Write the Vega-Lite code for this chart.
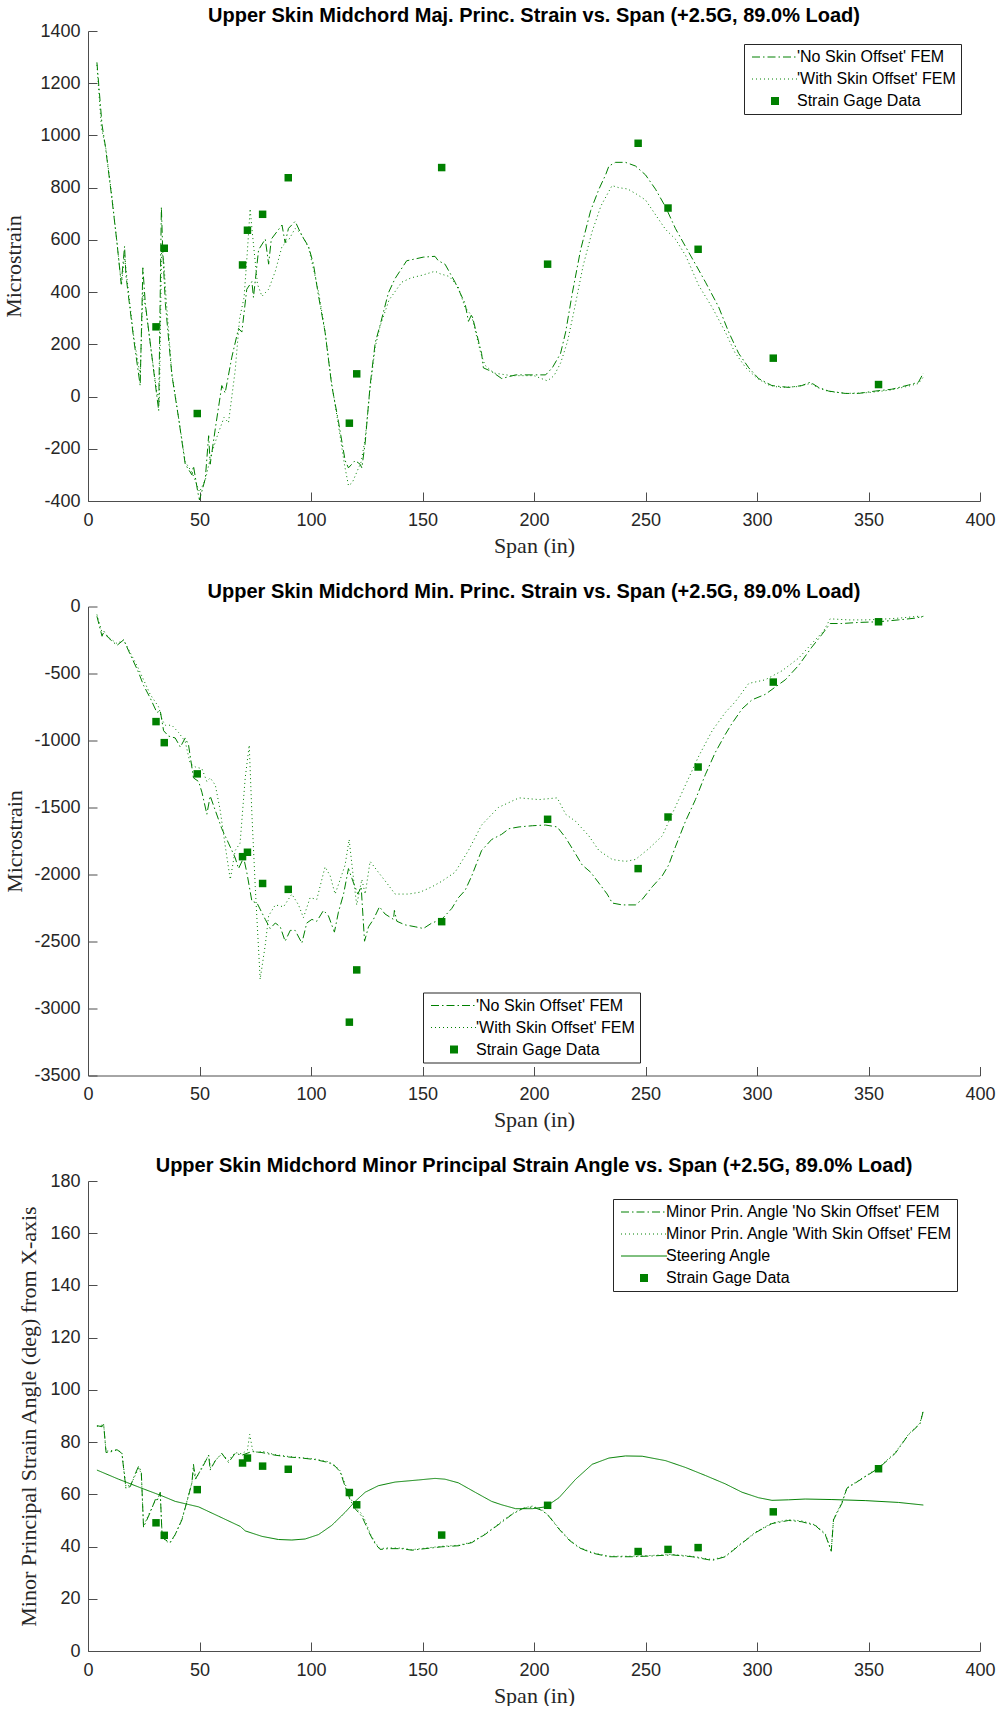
{
"$schema": "https://vega.github.io/schema/vega-lite/v6.json",
"padding": {"left": 2, "top": 6, "right": 0, "bottom": 0},
"background": "white",
"spacing": 25.5,
"datasets": {
"p1": [
{"s":"N","x":4,"y":1280},{"s":"N","x":6.3,"y":1040},{"s":"N","x":7.8,"y":958},{"s":"N","x":10.8,"y":753},{"s":"N","x":13,"y":589},{"s":"N","x":14.9,"y":432},{"s":"N","x":16.4,"y":575},{"s":"N","x":17,"y":466},{"s":"N","x":20.5,"y":220},{"s":"N","x":23.4,"y":42},{"s":"N","x":24.6,"y":493},{"s":"N","x":25.7,"y":356},{"s":"N","x":28.7,"y":151},{"s":"N","x":30.9,"y":0},{"s":"N","x":31.7,"y":-54},{"s":"N","x":32.9,"y":726},{"s":"N","x":33.5,"y":562},{"s":"N","x":34.7,"y":356},{"s":"N","x":37.6,"y":83},{"s":"N","x":40.6,"y":-81},{"s":"N","x":43.6,"y":-259},{"s":"N","x":46.6,"y":-300},{"s":"N","x":47.3,"y":-266},{"s":"N","x":49.3,"y":-369},{"s":"N","x":50,"y":-396},{"s":"N","x":52.6,"y":-314},{"s":"N","x":54.1,"y":-150},{"s":"N","x":54.8,"y":-259},{"s":"N","x":57.1,"y":-122},{"s":"N","x":60,"y":42},{"s":"N","x":61.5,"y":14},{"s":"N","x":64.5,"y":151},{"s":"N","x":67.5,"y":261},{"s":"N","x":69,"y":247},{"s":"N","x":71.2,"y":411},{"s":"N","x":73.5,"y":440},{"s":"N","x":74.2,"y":380},{"s":"N","x":76.5,"y":562},{"s":"N","x":79.5,"y":603},{"s":"N","x":81,"y":507},{"s":"N","x":82.2,"y":603},{"s":"N","x":87,"y":657},{"s":"N","x":88.4,"y":589},{"s":"N","x":89.9,"y":644},{"s":"N","x":92.9,"y":671},{"s":"N","x":95.9,"y":616},{"s":"N","x":98.9,"y":575},{"s":"N","x":101.1,"y":507},{"s":"N","x":103.4,"y":384},{"s":"N","x":106.3,"y":247},{"s":"N","x":109.3,"y":42},{"s":"N","x":112.3,"y":-95},{"s":"N","x":115.3,"y":-245},{"s":"N","x":116.8,"y":-273},{"s":"N","x":119.8,"y":-245},{"s":"N","x":122,"y":-259},{"s":"N","x":122.8,"y":-273},{"s":"N","x":124.3,"y":-177},{"s":"N","x":126.5,"y":42},{"s":"N","x":128.8,"y":206},{"s":"N","x":131,"y":274},{"s":"N","x":134.7,"y":397},{"s":"N","x":137.7,"y":452},{"s":"N","x":142.9,"y":520},{"s":"N","x":146.7,"y":527},{"s":"N","x":150.4,"y":534},{"s":"N","x":155.6,"y":537},{"s":"N","x":157.1,"y":520},{"s":"N","x":160.1,"y":507},{"s":"N","x":164.6,"y":438},{"s":"N","x":169.1,"y":356},{"s":"N","x":170.6,"y":288},{"s":"N","x":172.1,"y":315},{"s":"N","x":176.5,"y":165},{"s":"N","x":177.3,"y":110},{"s":"N","x":181,"y":96},{"s":"N","x":185.5,"y":69},{"s":"N","x":191.8,"y":83},{"s":"N","x":199.3,"y":83},{"s":"N","x":205.2,"y":83},{"s":"N","x":208.2,"y":110},{"s":"N","x":211.9,"y":165},{"s":"N","x":214.2,"y":247},{"s":"N","x":217.2,"y":397},{"s":"N","x":220.9,"y":562},{"s":"N","x":225.4,"y":712},{"s":"N","x":229.1,"y":794},{"s":"N","x":232.1,"y":849},{"s":"N","x":233.6,"y":883},{"s":"N","x":236.6,"y":897},{"s":"N","x":241,"y":897},{"s":"N","x":245.5,"y":883},{"s":"N","x":250,"y":849},{"s":"N","x":254.5,"y":794},{"s":"N","x":259,"y":726},{"s":"N","x":263.4,"y":644},{"s":"N","x":267.9,"y":575},{"s":"N","x":272.4,"y":507},{"s":"N","x":276.9,"y":438},{"s":"N","x":282.8,"y":343},{"s":"N","x":287.3,"y":247},{"s":"N","x":291.8,"y":165},{"s":"N","x":296.3,"y":110},{"s":"N","x":300.7,"y":69},{"s":"N","x":306.7,"y":42},{"s":"N","x":314.2,"y":35},{"s":"N","x":320.1,"y":42},{"s":"N","x":323.9,"y":55},{"s":"N","x":327.6,"y":35},{"s":"N","x":332.1,"y":21},{"s":"N","x":339.6,"y":12},{"s":"N","x":345.5,"y":12},{"s":"N","x":353,"y":21},{"s":"N","x":360.4,"y":28},{"s":"N","x":367.9,"y":44},{"s":"N","x":372.4,"y":55},{"s":"N","x":374.6,"y":90},
{"s":"W","x":4,"y":1270},{"s":"W","x":6,"y":1030},{"s":"W","x":8,"y":950},{"s":"W","x":10.8,"y":760},{"s":"W","x":13,"y":590},{"s":"W","x":15,"y":425},{"s":"W","x":16.4,"y":540},{"s":"W","x":17.5,"y":450},{"s":"W","x":20.5,"y":230},{"s":"W","x":23.4,"y":80},{"s":"W","x":24.6,"y":400},{"s":"W","x":26,"y":330},{"s":"W","x":28.7,"y":150},{"s":"W","x":31,"y":10},{"s":"W","x":32,"y":-20},{"s":"W","x":33,"y":560},{"s":"W","x":34,"y":520},{"s":"W","x":35,"y":380},{"s":"W","x":37.6,"y":90},{"s":"W","x":40.6,"y":-80},{"s":"W","x":43.6,"y":-250},{"s":"W","x":46.6,"y":-290},{"s":"W","x":48,"y":-320},{"s":"W","x":50,"y":-365},{"s":"W","x":52.6,"y":-320},{"s":"W","x":55,"y":-230},{"s":"W","x":58,"y":-150},{"s":"W","x":61,"y":-80},{"s":"W","x":63,"y":-100},{"s":"W","x":66,"y":100},{"s":"W","x":68,"y":300},{"s":"W","x":70,"y":380},{"s":"W","x":71.5,"y":560},{"s":"W","x":72.7,"y":719},{"s":"W","x":74,"y":600},{"s":"W","x":76,"y":430},{"s":"W","x":78,"y":384},{"s":"W","x":81,"y":411},{"s":"W","x":84,"y":480},{"s":"W","x":87,"y":575},{"s":"W","x":90,"y":600},{"s":"W","x":92.9,"y":644},{"s":"W","x":95.5,"y":625},{"s":"W","x":98.9,"y":570},{"s":"W","x":101,"y":493},{"s":"W","x":103.4,"y":400},{"s":"W","x":106.3,"y":250},{"s":"W","x":109.3,"y":50},{"s":"W","x":112.3,"y":-110},{"s":"W","x":115,"y":-260},{"s":"W","x":116.8,"y":-341},{"s":"W","x":118.5,"y":-330},{"s":"W","x":120.5,"y":-290},{"s":"W","x":122.5,"y":-250},{"s":"W","x":124.3,"y":-160},{"s":"W","x":126.5,"y":30},{"s":"W","x":128.8,"y":190},{"s":"W","x":131,"y":270},{"s":"W","x":135,"y":370},{"s":"W","x":140.7,"y":438},{"s":"W","x":145,"y":455},{"s":"W","x":150,"y":465},{"s":"W","x":155.6,"y":480},{"s":"W","x":158,"y":470},{"s":"W","x":162,"y":460},{"s":"W","x":166,"y":420},{"s":"W","x":169,"y":343},{"s":"W","x":172,"y":310},{"s":"W","x":176,"y":170},{"s":"W","x":178,"y":120},{"s":"W","x":182,"y":90},{"s":"W","x":190,"y":80},{"s":"W","x":200,"y":80},{"s":"W","x":206,"y":60},{"s":"W","x":209,"y":80},{"s":"W","x":212,"y":130},{"s":"W","x":215,"y":210},{"s":"W","x":218,"y":330},{"s":"W","x":222,"y":500},{"s":"W","x":226,"y":630},{"s":"W","x":230,"y":730},{"s":"W","x":235,"y":808},{"s":"W","x":238,"y":800},{"s":"W","x":242,"y":795},{"s":"W","x":246,"y":775},{"s":"W","x":250,"y":753},{"s":"W","x":255,"y":690},{"s":"W","x":259,"y":640},{"s":"W","x":263.4,"y":603},{"s":"W","x":268,"y":540},{"s":"W","x":273.9,"y":425},{"s":"W","x":280,"y":340},{"s":"W","x":285.8,"y":247},{"s":"W","x":290,"y":170},{"s":"W","x":295,"y":110},{"s":"W","x":300,"y":70},{"s":"W","x":305,"y":45},{"s":"W","x":310,"y":35},{"s":"W","x":318,"y":38},{"s":"W","x":323.9,"y":50},{"s":"W","x":327.6,"y":33},{"s":"W","x":332,"y":20},{"s":"W","x":340,"y":12},{"s":"W","x":350,"y":15},{"s":"W","x":360,"y":25},{"s":"W","x":368,"y":40},{"s":"W","x":372.4,"y":50},{"s":"W","x":374.6,"y":75}
],
"g1": [
{"x":30.5,"y":267},{"x":34.2,"y":568},{"x":49,"y":-65},{"x":69.3,"y":504},{"x":71.5,"y":637},{"x":78.3,"y":698},{"x":89.8,"y":838},{"x":117.2,"y":-102},{"x":120.5,"y":87},{"x":158.6,"y":877},{"x":206.1,"y":507},{"x":246.7,"y":970},{"x":260.1,"y":722},{"x":273.6,"y":564},{"x":307.3,"y":147},{"x":354.5,"y":46}
],
"p2": [
{"s":"N","x":4,"y":-73},{"s":"N","x":6.3,"y":-222},{"s":"N","x":7,"y":-182},{"s":"N","x":9.3,"y":-236},{"s":"N","x":13,"y":-290},{"s":"N","x":16,"y":-249},{"s":"N","x":18.2,"y":-331},{"s":"N","x":22.7,"y":-493},{"s":"N","x":24.9,"y":-588},{"s":"N","x":27.9,"y":-683},{"s":"N","x":30.9,"y":-791},{"s":"N","x":32.4,"y":-778},{"s":"N","x":33.9,"y":-927},{"s":"N","x":36.1,"y":-967},{"s":"N","x":39.1,"y":-981},{"s":"N","x":41.4,"y":-1049},{"s":"N","x":43.6,"y":-981},{"s":"N","x":45.1,"y":-1035},{"s":"N","x":47.3,"y":-1279},{"s":"N","x":49.6,"y":-1306},{"s":"N","x":51.1,"y":-1387},{"s":"N","x":53.3,"y":-1550},{"s":"N","x":54.8,"y":-1414},{"s":"N","x":57.1,"y":-1523},{"s":"N","x":60,"y":-1658},{"s":"N","x":63,"y":-1766},{"s":"N","x":66,"y":-1875},{"s":"N","x":67.5,"y":-1956},{"s":"N","x":69.8,"y":-1875},{"s":"N","x":71.2,"y":-1983},{"s":"N","x":73.5,"y":-2200},{"s":"N","x":75.8,"y":-2213},{"s":"N","x":79.5,"y":-2335},{"s":"N","x":81.7,"y":-2403},{"s":"N","x":84,"y":-2362},{"s":"N","x":86.2,"y":-2390},{"s":"N","x":88.4,"y":-2498},{"s":"N","x":90.7,"y":-2417},{"s":"N","x":92.9,"y":-2417},{"s":"N","x":95.9,"y":-2512},{"s":"N","x":98.1,"y":-2362},{"s":"N","x":100.4,"y":-2335},{"s":"N","x":102.6,"y":-2349},{"s":"N","x":105.6,"y":-2268},{"s":"N","x":107.8,"y":-2308},{"s":"N","x":110.5,"y":-2430},{"s":"N","x":112.3,"y":-2281},{"s":"N","x":114.6,"y":-2146},{"s":"N","x":116.8,"y":-1956},{"s":"N","x":119.1,"y":-2064},{"s":"N","x":121,"y":-2146},{"s":"N","x":122.5,"y":-2092},{"s":"N","x":124,"y":-2498},{"s":"N","x":125.8,"y":-2390},{"s":"N","x":128,"y":-2335},{"s":"N","x":130.7,"y":-2241},{"s":"N","x":133.2,"y":-2295},{"s":"N","x":137,"y":-2335},{"s":"N","x":137.4,"y":-2268},{"s":"N","x":138.5,"y":-2349},{"s":"N","x":142.2,"y":-2376},{"s":"N","x":146.7,"y":-2390},{"s":"N","x":150.4,"y":-2403},{"s":"N","x":154.2,"y":-2362},{"s":"N","x":158.6,"y":-2335},{"s":"N","x":163.1,"y":-2254},{"s":"N","x":166.1,"y":-2173},{"s":"N","x":169.1,"y":-2119},{"s":"N","x":172.1,"y":-2010},{"s":"N","x":176.5,"y":-1821},{"s":"N","x":181,"y":-1739},{"s":"N","x":185.5,"y":-1700},{"s":"N","x":188.8,"y":-1658},{"s":"N","x":193.3,"y":-1645},{"s":"N","x":199.3,"y":-1636},{"s":"N","x":205.2,"y":-1631},{"s":"N","x":210.4,"y":-1645},{"s":"N","x":214.2,"y":-1726},{"s":"N","x":218.7,"y":-1848},{"s":"N","x":221.6,"y":-1929},{"s":"N","x":225.4,"y":-1983},{"s":"N","x":229.1,"y":-2064},{"s":"N","x":232.8,"y":-2146},{"s":"N","x":235.1,"y":-2213},{"s":"N","x":239.6,"y":-2227},{"s":"N","x":245.5,"y":-2227},{"s":"N","x":248.5,"y":-2186},{"s":"N","x":253,"y":-2092},{"s":"N","x":257.5,"y":-2010},{"s":"N","x":260.4,"y":-1929},{"s":"N","x":263.4,"y":-1794},{"s":"N","x":267.9,"y":-1604},{"s":"N","x":272.4,"y":-1441},{"s":"N","x":276.9,"y":-1252},{"s":"N","x":281.3,"y":-1089},{"s":"N","x":285.8,"y":-954},{"s":"N","x":288.8,"y":-872},{"s":"N","x":293.3,"y":-764},{"s":"N","x":297.8,"y":-696},{"s":"N","x":303.7,"y":-656},{"s":"N","x":308.2,"y":-601},{"s":"N","x":312.7,"y":-547},{"s":"N","x":318.7,"y":-439},{"s":"N","x":324.6,"y":-303},{"s":"N","x":329.1,"y":-209},{"s":"N","x":332.8,"y":-127},{"s":"N","x":338.1,"y":-127},{"s":"N","x":345.5,"y":-119},{"s":"N","x":354.5,"y":-114},{"s":"N","x":363.4,"y":-100},{"s":"N","x":370.9,"y":-87},{"s":"N","x":374.6,"y":-73},
{"s":"W","x":4,"y":-60},{"s":"W","x":6.3,"y":-195},{"s":"W","x":13,"y":-276},{"s":"W","x":16,"y":-249},{"s":"W","x":22.7,"y":-466},{"s":"W","x":27.9,"y":-656},{"s":"W","x":31.7,"y":-750},{"s":"W","x":33.2,"y":-845},{"s":"W","x":34.7,"y":-886},{"s":"W","x":37.6,"y":-886},{"s":"W","x":40.6,"y":-940},{"s":"W","x":43.6,"y":-1008},{"s":"W","x":45.8,"y":-1170},{"s":"W","x":48.1,"y":-1197},{"s":"W","x":51.1,"y":-1211},{"s":"W","x":53.3,"y":-1306},{"s":"W","x":54.8,"y":-1279},{"s":"W","x":57.1,"y":-1333},{"s":"W","x":59.3,"y":-1523},{"s":"W","x":61.6,"y":-1794},{"s":"W","x":63.8,"y":-2037},{"s":"W","x":66,"y":-1821},{"s":"W","x":68.2,"y":-1766},{"s":"W","x":70.5,"y":-1279},{"s":"W","x":72.3,"y":-1035},{"s":"W","x":73.5,"y":-1550},{"s":"W","x":75,"y":-2092},{"s":"W","x":77.2,"y":-2782},{"s":"W","x":79.5,"y":-2525},{"s":"W","x":81,"y":-2308},{"s":"W","x":84,"y":-2227},{"s":"W","x":87.7,"y":-2241},{"s":"W","x":91.4,"y":-2146},{"s":"W","x":94.4,"y":-2227},{"s":"W","x":96.6,"y":-2322},{"s":"W","x":99.6,"y":-2173},{"s":"W","x":102.6,"y":-2186},{"s":"W","x":106.3,"y":-1943},{"s":"W","x":108.6,"y":-2010},{"s":"W","x":110.8,"y":-2146},{"s":"W","x":113.1,"y":-2037},{"s":"W","x":115.3,"y":-1929},{"s":"W","x":117.1,"y":-1739},{"s":"W","x":119.1,"y":-2037},{"s":"W","x":120.5,"y":-2227},{"s":"W","x":122.8,"y":-2037},{"s":"W","x":124.3,"y":-2146},{"s":"W","x":126.5,"y":-1902},{"s":"W","x":130.2,"y":-1983},{"s":"W","x":134,"y":-2064},{"s":"W","x":137.7,"y":-2146},{"s":"W","x":143.7,"y":-2146},{"s":"W","x":148.9,"y":-2132},{"s":"W","x":154.2,"y":-2092},{"s":"W","x":158.6,"y":-2051},{"s":"W","x":164.6,"y":-1983},{"s":"W","x":170.6,"y":-1821},{"s":"W","x":176.5,"y":-1631},{"s":"W","x":184,"y":-1500},{"s":"W","x":193.3,"y":-1428},{"s":"W","x":202.2,"y":-1441},{"s":"W","x":210.4,"y":-1428},{"s":"W","x":214.2,"y":-1550},{"s":"W","x":218.7,"y":-1604},{"s":"W","x":224.6,"y":-1712},{"s":"W","x":229.1,"y":-1821},{"s":"W","x":235.1,"y":-1888},{"s":"W","x":241,"y":-1902},{"s":"W","x":245.5,"y":-1888},{"s":"W","x":251.5,"y":-1807},{"s":"W","x":257.5,"y":-1712},{"s":"W","x":261.9,"y":-1550},{"s":"W","x":267.9,"y":-1333},{"s":"W","x":273.9,"y":-1116},{"s":"W","x":279.9,"y":-927},{"s":"W","x":285.8,"y":-791},{"s":"W","x":290.3,"y":-710},{"s":"W","x":296.3,"y":-574},{"s":"W","x":303.7,"y":-547},{"s":"W","x":311.2,"y":-480},{"s":"W","x":318.7,"y":-385},{"s":"W","x":324.6,"y":-276},{"s":"W","x":329.9,"y":-182},{"s":"W","x":332.8,"y":-92},{"s":"W","x":341,"y":-100},{"s":"W","x":348.5,"y":-100},{"s":"W","x":356,"y":-95},{"s":"W","x":363.4,"y":-87},{"s":"W","x":372.4,"y":-73},{"s":"W","x":374.6,"y":-81}
],
"g2": [
{"x":30.5,"y":-859},{"x":34.2,"y":-1016},{"x":49,"y":-1249},{"x":69.3,"y":-1867},{"x":71.5,"y":-1834},{"x":78.3,"y":-2067},{"x":89.8,"y":-2111},{"x":117.2,"y":-3102},{"x":120.5,"y":-2712},{"x":158.6,"y":-2352},{"x":206.1,"y":-1588},{"x":246.7,"y":-1956},{"x":260.1,"y":-1571},{"x":273.6,"y":-1198},{"x":307.3,"y":-564},{"x":354.5,"y":-114}
],
"p3": [
{"s":"N","x":4,"y":86.3},{"s":"N","x":6.3,"y":85.9},{"s":"N","x":7,"y":87},{"s":"N","x":8.1,"y":76},{"s":"N","x":10.8,"y":76.4},{"s":"N","x":13,"y":77.1},{"s":"N","x":15.2,"y":75.7},{"s":"N","x":17,"y":62.3},{"s":"N","x":19,"y":63},{"s":"N","x":20.5,"y":66.5},{"s":"N","x":22.7,"y":70.8},{"s":"N","x":23.9,"y":68.6},{"s":"N","x":24.9,"y":47.4},{"s":"N","x":27.9,"y":53.1},{"s":"N","x":30.2,"y":58},{"s":"N","x":30.9,"y":57.3},{"s":"N","x":32.4,"y":60.8},{"s":"N","x":33.2,"y":44.6},{"s":"N","x":34.7,"y":42.5},{"s":"N","x":36.9,"y":41.7},{"s":"N","x":39.1,"y":44.6},{"s":"N","x":42.1,"y":50.2},{"s":"N","x":44.4,"y":57.3},{"s":"N","x":46.6,"y":64.4},{"s":"N","x":47.3,"y":71.5},{"s":"N","x":48.1,"y":65.8},{"s":"N","x":51.1,"y":70},{"s":"N","x":54.1,"y":75},{"s":"N","x":54.8,"y":69.3},{"s":"N","x":57.1,"y":72.9},{"s":"N","x":60,"y":75.7},{"s":"N","x":63,"y":72.2},{"s":"N","x":66,"y":75.7},{"s":"N","x":69,"y":75},{"s":"N","x":73.5,"y":76.4},{"s":"N","x":78,"y":76},{"s":"N","x":83.9,"y":75},{"s":"N","x":89.9,"y":74.3},{"s":"N","x":95.9,"y":73.9},{"s":"N","x":101.9,"y":73.3},{"s":"N","x":107.8,"y":72.2},{"s":"N","x":110.8,"y":70.8},{"s":"N","x":113.1,"y":68.6},{"s":"N","x":115.3,"y":63},{"s":"N","x":117.5,"y":58},{"s":"N","x":119.8,"y":54.5},{"s":"N","x":122.8,"y":51.6},{"s":"N","x":124.3,"y":48.8},{"s":"N","x":126.5,"y":44.6},{"s":"N","x":128.8,"y":41},{"s":"N","x":131,"y":38.9},{"s":"N","x":134.7,"y":39.2},{"s":"N","x":140.7,"y":39.2},{"s":"N","x":145.2,"y":38.6},{"s":"N","x":151.2,"y":39.2},{"s":"N","x":158.6,"y":39.9},{"s":"N","x":166.1,"y":40.3},{"s":"N","x":172.1,"y":41.5},{"s":"N","x":178,"y":44.6},{"s":"N","x":182.5,"y":47.4},{"s":"N","x":185.5,"y":49.3},{"s":"N","x":190.3,"y":52.4},{"s":"N","x":194.8,"y":54.5},{"s":"N","x":199.3,"y":55.2},{"s":"N","x":203.7,"y":53.8},{"s":"N","x":206.7,"y":51.6},{"s":"N","x":211.2,"y":46.7},{"s":"N","x":215.7,"y":42.5},{"s":"N","x":220.1,"y":39.6},{"s":"N","x":226.1,"y":37.5},{"s":"N","x":233.6,"y":36.1},{"s":"N","x":244,"y":36.1},{"s":"N","x":253,"y":36.4},{"s":"N","x":261.9,"y":36.8},{"s":"N","x":270.9,"y":36.1},{"s":"N","x":279.9,"y":34.7},{"s":"N","x":285.8,"y":36.1},{"s":"N","x":291.8,"y":40.3},{"s":"N","x":299.3,"y":45.3},{"s":"N","x":306.7,"y":48.8},{"s":"N","x":314.2,"y":50},{"s":"N","x":320.1,"y":49.5},{"s":"N","x":326.1,"y":48.1},{"s":"N","x":330.6,"y":44.6},{"s":"N","x":333.3,"y":38.2},{"s":"N","x":334.3,"y":50.2},{"s":"N","x":338.1,"y":56.6},{"s":"N","x":340.3,"y":62.3},{"s":"N","x":345.5,"y":65.1},{"s":"N","x":354.5,"y":70},{"s":"N","x":362,"y":75.7},{"s":"N","x":367.9,"y":82.8},{"s":"N","x":373.1,"y":87},{"s":"N","x":374.6,"y":92},
{"s":"W","x":4,"y":86},{"s":"W","x":6.3,"y":86.5},{"s":"W","x":7,"y":87},{"s":"W","x":8.1,"y":76.5},{"s":"W","x":10.8,"y":76.8},{"s":"W","x":13,"y":77},{"s":"W","x":15.2,"y":76},{"s":"W","x":17,"y":63},{"s":"W","x":19,"y":63.5},{"s":"W","x":20.5,"y":66},{"s":"W","x":22.7,"y":70},{"s":"W","x":23.9,"y":68},{"s":"W","x":24.9,"y":48},{"s":"W","x":27.9,"y":53.5},{"s":"W","x":30.2,"y":57.5},{"s":"W","x":32.4,"y":60},{"s":"W","x":33.2,"y":45},{"s":"W","x":34.7,"y":42},{"s":"W","x":36.9,"y":41.5},{"s":"W","x":39.1,"y":44.5},{"s":"W","x":42.1,"y":50.5},{"s":"W","x":44.4,"y":57.5},{"s":"W","x":46.6,"y":64.5},{"s":"W","x":47.5,"y":70},{"s":"W","x":48.5,"y":66},{"s":"W","x":51.1,"y":70.5},{"s":"W","x":54.1,"y":75},{"s":"W","x":55,"y":70},{"s":"W","x":57.1,"y":73},{"s":"W","x":60,"y":75.5},{"s":"W","x":63,"y":73},{"s":"W","x":66,"y":76},{"s":"W","x":69,"y":75.5},{"s":"W","x":71.5,"y":77},{"s":"W","x":72.5,"y":83},{"s":"W","x":73.8,"y":77},{"s":"W","x":76,"y":76},{"s":"W","x":78,"y":76.5},{"s":"W","x":83.9,"y":75.2},{"s":"W","x":89.9,"y":74.5},{"s":"W","x":95.9,"y":74},{"s":"W","x":101.9,"y":73.5},{"s":"W","x":107.8,"y":72.5},{"s":"W","x":110.8,"y":71},{"s":"W","x":113.1,"y":69},{"s":"W","x":115.3,"y":64},{"s":"W","x":117.5,"y":59},{"s":"W","x":119.8,"y":55},{"s":"W","x":122.8,"y":52.5},{"s":"W","x":124.3,"y":50},{"s":"W","x":126.5,"y":45},{"s":"W","x":128.8,"y":41.5},{"s":"W","x":131,"y":39.2},{"s":"W","x":134.7,"y":39.5},{"s":"W","x":140.7,"y":39.4},{"s":"W","x":145.2,"y":38.8},{"s":"W","x":151.2,"y":39.4},{"s":"W","x":158.6,"y":40.1},{"s":"W","x":166.1,"y":40.5},{"s":"W","x":172.1,"y":41.7},{"s":"W","x":178,"y":44.8},{"s":"W","x":182.5,"y":47.6},{"s":"W","x":185.5,"y":49.7},{"s":"W","x":190.3,"y":52.6},{"s":"W","x":194.8,"y":54.7},{"s":"W","x":199.3,"y":55.5},{"s":"W","x":203.7,"y":54},{"s":"W","x":206.7,"y":51.8},{"s":"W","x":211.2,"y":47},{"s":"W","x":215.7,"y":42.8},{"s":"W","x":220.1,"y":39.8},{"s":"W","x":226.1,"y":37.7},{"s":"W","x":233.6,"y":36.3},{"s":"W","x":244,"y":36.3},{"s":"W","x":253,"y":36.6},{"s":"W","x":261.9,"y":37},{"s":"W","x":270.9,"y":36.3},{"s":"W","x":279.9,"y":35},{"s":"W","x":285.8,"y":36.3},{"s":"W","x":291.8,"y":40.5},{"s":"W","x":299.3,"y":45.5},{"s":"W","x":306.7,"y":49},{"s":"W","x":314.2,"y":50.3},{"s":"W","x":320.1,"y":49.8},{"s":"W","x":326.1,"y":48.3},{"s":"W","x":330.6,"y":45},{"s":"W","x":333.3,"y":38.5},{"s":"W","x":334.3,"y":50.5},{"s":"W","x":338.1,"y":57},{"s":"W","x":340.3,"y":62.5},{"s":"W","x":345.5,"y":65.3},{"s":"W","x":354.5,"y":70.2},{"s":"W","x":362,"y":76},{"s":"W","x":367.9,"y":83},{"s":"W","x":373.1,"y":87.3},{"s":"W","x":374.6,"y":92.5},
{"s":"S","x":4,"y":69.3},{"s":"S","x":13.7,"y":65.8},{"s":"S","x":24.2,"y":62.3},{"s":"S","x":33.2,"y":59.4},{"s":"S","x":39.1,"y":57.3},{"s":"S","x":49.6,"y":55.2},{"s":"S","x":58.6,"y":51.6},{"s":"S","x":68.3,"y":47.7},{"s":"S","x":70.5,"y":46},{"s":"S","x":78,"y":43.9},{"s":"S","x":85.4,"y":42.7},{"s":"S","x":91.4,"y":42.5},{"s":"S","x":97.4,"y":42.9},{"s":"S","x":103.4,"y":44.6},{"s":"S","x":109.3,"y":48.1},{"s":"S","x":115.3,"y":53.1},{"s":"S","x":119.8,"y":57.3},{"s":"S","x":124.3,"y":60.8},{"s":"S","x":130.2,"y":63.3},{"s":"S","x":137.7,"y":64.7},{"s":"S","x":148.2,"y":65.5},{"s":"S","x":155.6,"y":66.1},{"s":"S","x":160.1,"y":65.8},{"s":"S","x":166.1,"y":64.4},{"s":"S","x":173.6,"y":60.8},{"s":"S","x":181,"y":57.3},{"s":"S","x":185.5,"y":56},{"s":"S","x":191.8,"y":54.5},{"s":"S","x":199.3,"y":54.5},{"s":"S","x":205.2,"y":55.2},{"s":"S","x":211.2,"y":58.7},{"s":"S","x":218.7,"y":65.8},{"s":"S","x":226.1,"y":71.5},{"s":"S","x":233.6,"y":73.9},{"s":"S","x":241,"y":74.7},{"s":"S","x":248.5,"y":74.6},{"s":"S","x":259,"y":72.9},{"s":"S","x":267.9,"y":70.3},{"s":"S","x":276.9,"y":67.2},{"s":"S","x":285.8,"y":64},{"s":"S","x":293.3,"y":60.8},{"s":"S","x":300.7,"y":58.7},{"s":"S","x":306.7,"y":57.7},{"s":"S","x":314.2,"y":57.9},{"s":"S","x":321.6,"y":58.2},{"s":"S","x":333.6,"y":58},{"s":"S","x":348.5,"y":57.6},{"s":"S","x":363.4,"y":56.9},{"s":"S","x":374.6,"y":55.9}
],
"g3": [
{"x":30.5,"y":49.1},{"x":34.2,"y":44.3},{"x":49,"y":61.8},{"x":69.3,"y":72},{"x":71.5,"y":73.9},{"x":78.3,"y":70.8},{"x":89.8,"y":69.6},{"x":117.2,"y":60.7},{"x":120.5,"y":56},{"x":158.6,"y":44.4},{"x":206.1,"y":55.8},{"x":246.7,"y":38.1},{"x":260.1,"y":38.9},{"x":273.6,"y":39.6},{"x":307.3,"y":53.3},{"x":354.5,"y":69.8}
]
},
"resolve": {"scale": {"x": "independent", "y": "independent", "strokeDash": "independent"}, "legend": {"strokeDash": "independent"}},
"vconcat": [
{
"width": 892, "height": 470,
"title": {"text": "Upper Skin Midchord Maj. Princ. Strain vs. Span (+2.5G, 89.0% Load)"},
"layer": [
{"data": {"name": "p1"}, "mark": {"type": "line", "strokeWidth": 1, "color": "#008000"},
"encoding": {
"x": {"field": "x", "type": "quantitative", "scale": {"domain": [0, 400], "nice": false}, "axis": {"values": [0,50,100,150,200,250,300,350,400], "title": "Span (in)"}},
"y": {"field": "y", "type": "quantitative", "scale": {"domain": [-400, 1400], "nice": false}, "axis": {"values": [-400,-200,0,200,400,600,800,1000,1200,1400], "title": "Microstrain", "titlePadding": 14}},
"strokeDash": {"field": "s", "type": "nominal", "scale": {"domain": ["N", "W", "G"], "range": [[8,3,1.5,3],[1,3],[1,0]]},
"legend": {"orient": "none", "legendX": 656, "legendY": 13,
"labelExpr": "datum.value == 'N' ? \"'No Skin Offset' FEM\" : datum.value == 'W' ? \"'With Skin Offset' FEM\" : 'Strain Gage Data'",
"encode": {"symbols": {"update": {"stroke": {"value": "#008000"}, "shape": {"signal": "datum.value == 'G' ? 'square' : 'stroke'"}, "size": {"signal": "datum.value == 'G' ? 64 : 2116"}, "fill": {"signal": "datum.value == 'G' ? '#008000' : 'transparent'"}, "strokeWidth": {"signal": "datum.value == 'G' ? 0 : 1"}}}}}}
}},
{"data": {"name": "g1"}, "mark": {"type": "square", "size": 56, "color": "#008000", "opacity": 1},
"encoding": {"x": {"field": "x", "type": "quantitative"}, "y": {"field": "y", "type": "quantitative"}}}
]
},
{
"width": 892, "height": 469,
"title": {"text": "Upper Skin Midchord Min. Princ. Strain vs. Span (+2.5G, 89.0% Load)"},
"layer": [
{"data": {"name": "p2"}, "mark": {"type": "line", "strokeWidth": 1, "color": "#008000"},
"encoding": {
"x": {"field": "x", "type": "quantitative", "scale": {"domain": [0, 400], "nice": false}, "axis": {"values": [0,50,100,150,200,250,300,350,400], "title": "Span (in)"}},
"y": {"field": "y", "type": "quantitative", "scale": {"domain": [-3500, 0], "nice": false}, "axis": {"values": [-3500,-3000,-2500,-2000,-1500,-1000,-500,0], "title": "Microstrain", "titlePadding": 7}},
"strokeDash": {"field": "s", "type": "nominal", "scale": {"domain": ["N", "W", "G"], "range": [[8,3,1.5,3],[1,3],[1,0]]},
"legend": {"orient": "none", "legendX": 335, "legendY": 386,
"labelExpr": "datum.value == 'N' ? \"'No Skin Offset' FEM\" : datum.value == 'W' ? \"'With Skin Offset' FEM\" : 'Strain Gage Data'",
"encode": {"symbols": {"update": {"stroke": {"value": "#008000"}, "shape": {"signal": "datum.value == 'G' ? 'square' : 'stroke'"}, "size": {"signal": "datum.value == 'G' ? 64 : 2116"}, "fill": {"signal": "datum.value == 'G' ? '#008000' : 'transparent'"}, "strokeWidth": {"signal": "datum.value == 'G' ? 0 : 1"}}}}}}
}},
{"data": {"name": "g2"}, "mark": {"type": "square", "size": 56, "color": "#008000", "opacity": 1},
"encoding": {"x": {"field": "x", "type": "quantitative"}, "y": {"field": "y", "type": "quantitative"}}}
]
},
{
"width": 892, "height": 470,
"title": {"text": "Upper Skin Midchord Minor Principal Strain Angle vs. Span (+2.5G, 89.0% Load)"},
"layer": [
{"data": {"name": "p3"}, "mark": {"type": "line", "strokeWidth": 1, "color": "#008000"},
"encoding": {
"x": {"field": "x", "type": "quantitative", "scale": {"domain": [0, 400], "nice": false}, "axis": {"values": [0,50,100,150,200,250,300,350,400], "title": "Span (in)"}},
"y": {"field": "y", "type": "quantitative", "scale": {"domain": [0, 180], "nice": false}, "axis": {"values": [0,20,40,60,80,100,120,140,160,180], "title": "Minor Principal Strain Angle (deg) from X-axis", "titlePadding": 9}},
"strokeDash": {"field": "s", "type": "nominal", "scale": {"domain": ["N", "W", "S", "G"], "range": [[8,3,1.5,3],[1,3],[1,0],[1,0]]},
"legend": {"orient": "none", "legendX": 525, "legendY": 18,
"labelExpr": "datum.value == 'N' ? \"Minor Prin. Angle 'No Skin Offset' FEM\" : datum.value == 'W' ? \"Minor Prin. Angle 'With Skin Offset' FEM\" : datum.value == 'S' ? 'Steering Angle' : 'Strain Gage Data'",
"encode": {"symbols": {"update": {"stroke": {"value": "#008000"}, "shape": {"signal": "datum.value == 'G' ? 'square' : 'stroke'"}, "size": {"signal": "datum.value == 'G' ? 64 : 2116"}, "fill": {"signal": "datum.value == 'G' ? '#008000' : 'transparent'"}, "strokeWidth": {"signal": "datum.value == 'G' ? 0 : 1"}}}}}}
}},
{"data": {"name": "g3"}, "mark": {"type": "square", "size": 56, "color": "#008000", "opacity": 1},
"encoding": {"x": {"field": "x", "type": "quantitative"}, "y": {"field": "y", "type": "quantitative"}}}
]
}
],
"config": {
"view": {"stroke": null},
"axis": {"grid": false, "domainColor": "#4d4d4d", "domainWidth": 1, "tickColor": "#4d4d4d", "tickSize": -9, "tickWidth": 1, "ticks": true, "labelColor": "#262626", "labelFont": "Liberation Sans", "labelFontSize": 18, "labelExpr": "datum.value + ''", "titleFont": "Liberation Serif", "titleFontSize": 22, "titleFontWeight": "normal", "titleColor": "#262626", "titlePadding": 6, "labelFlush": false, "labelOverlap": false},
"axisX": {"labelPadding": 19},
"axisY": {"labelPadding": 17},
"title": {"font": "Liberation Sans", "fontSize": 20, "fontWeight": "bold", "color": "#000000", "offset": -4, "anchor": "middle"},
"legend": {"title": null, "labelFont": "Liberation Sans", "labelFontSize": 16, "labelColor": "#000000", "labelLimit": 500, "symbolSize": 2116, "symbolStrokeWidth": 1, "symbolStrokeColor": "#008000", "symbolType": "stroke", "symbolOffset": 18, "rowPadding": 6, "padding": 5, "strokeColor": "#262626", "fillColor": "#ffffff", "labelOffset": 14}
}
}
